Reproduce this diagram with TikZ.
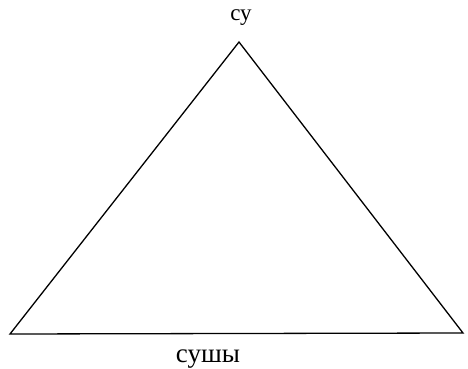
\documentclass[tikz,border=0pt]{standalone}
\usepackage{fontspec}
\setmainfont{Liberation Serif}
\usepackage{tikz}
\usetikzlibrary{positioning}

\begin{document}
\begin{tikzpicture}[x=1pt,y=-1pt, every node/.style={inner sep=0pt, anchor=base}]
\useasboundingbox (0,0) rectangle (468,369);
\coordinate (apex) at (239,42);
\coordinate (left) at (10,334);
\coordinate (right) at (463,333);
\draw[line width=1.3pt, line join=miter] (left) -- (apex) -- (right) -- cycle;
\node[font=\fontsize{23}{25}\selectfont] (water) at (241,21) {су};
\node[font=\fontsize{27}{29}\selectfont] (land) at (208,362) {сушы};
\end{tikzpicture}
\end{document}
